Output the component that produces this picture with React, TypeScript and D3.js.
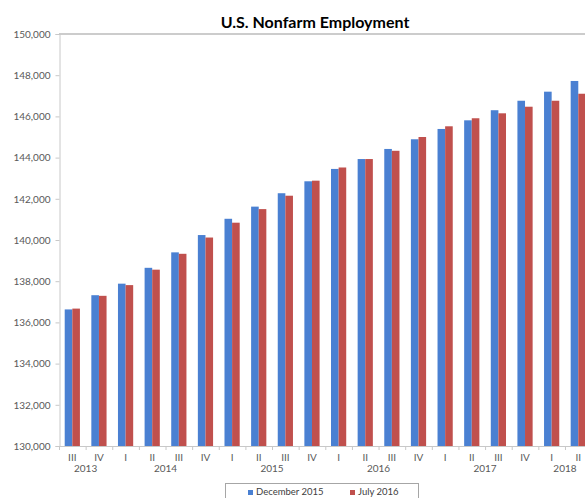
import { useEffect, useRef } from "react";
import * as d3 from "d3";

// quarters from 2013 III to 2018 II
const quarters = ["III", "IV", "I", "II", "III", "IV", "I", "II", "III", "IV", "I", "II", "III", "IV", "I", "II", "III", "IV", "I", "II"];
const years = ["2013", "2013", "2014", "2014", "2014", "2014", "2015", "2015", "2015", "2015", "2016", "2016", "2016", "2016", "2017", "2017", "2017", "2017", "2018", "2018"];
const seriesNames = ["December 2015", "July 2016"];
const dec2015 = [136630, 137320, 137880, 138650, 139400, 140240, 141030, 141620, 142270, 142850, 143450, 143930, 144420, 144890, 145390, 145810, 146300, 146760, 147200, 147720];
const jul2016 = [136670, 137290, 137810, 138560, 139330, 140120, 140840, 141500, 142150, 142880, 143520, 143930, 144330, 145000, 145520, 145910, 146150, 146470, 146760, 147100];
const yTicks = [130000, 132000, 134000, 136000, 138000, 140000, 142000, 144000, 146000, 148000, 150000];
const colors = ["#4a80d2", "#c0504d"];

export default function App() {
    const svgRef = useRef(null);
    const width = 585;
    const height = 498;

    useEffect(() => {
        const svg = d3.select(svgRef.current);
        svg.selectAll("*").remove();

        const font = "Lato, 'Open Sans', sans-serif";
        const keys = quarters.map((q, i) => `${years[i]}-${q}`);

        const x = d3.scaleBand()
            .domain(keys)
            .range([59, 59 + 20 * 26.63])
            .padding(0);

        const xInner = d3.scaleBand()
            .domain(seriesNames)
            .range([0, x.bandwidth()])
            .paddingInner(0)
            .paddingOuter(0.75);

        const y = d3.scaleLinear()
            .domain([130000, 150000])
            .range([446, 34]);

        // top border line
        svg.append("line")
            .attr("x1", 59).attr("x2", width)
            .attr("y1", y(150000)).attr("y2", y(150000))
            .attr("stroke", "#9a9a9a").attr("stroke-width", 1.2);

        // y axis
        const yAxis = svg.append("g")
            .attr("transform", "translate(59.5,0)")
            .call(d3.axisLeft(y).tickValues(yTicks).tickSize(4).tickPadding(5).tickFormat(d3.format(",")));
        yAxis.select(".domain").attr("stroke", "#c8c8c8");
        yAxis.selectAll(".tick line").attr("stroke", "#c8c8c8");
        yAxis.selectAll("text")
            .style("font-family", font)
            .style("font-size", "10px")
            .attr("fill", "#595959");

        // bars
        const data = keys.map((k, i) => ({ key: k, values: [dec2015[i], jul2016[i]] }));
        const groups = svg.append("g")
            .selectAll("g")
            .data(data)
            .join("g")
            .attr("transform", d => `translate(${x(d.key)},0)`);

        groups.selectAll("rect")
            .data(d => d.values.map((v, j) => ({ name: seriesNames[j], v, j })))
            .join("rect")
            .attr("x", d => xInner(d.name))
            .attr("y", d => y(d.v))
            .attr("width", xInner.bandwidth())
            .attr("height", d => y(130000) - y(d.v))
            .attr("fill", d => colors[d.j]);

        // x axis line and ticks
        svg.append("line")
            .attr("x1", 59).attr("x2", width)
            .attr("y1", 446.5).attr("y2", 446.5)
            .attr("stroke", "#c8c8c8");
        svg.append("g")
            .selectAll("line")
            .data(keys)
            .join("line")
            .attr("x1", d => x(d) + 0.5).attr("x2", d => x(d) + 0.5)
            .attr("y1", 446).attr("y2", 450)
            .attr("stroke", "#c8c8c8");

        // quarter labels
        svg.append("g")
            .selectAll("text")
            .data(keys)
            .join("text")
            .attr("x", d => x(d) + x.bandwidth() / 2)
            .attr("y", 461)
            .attr("text-anchor", "middle")
            .style("font-family", font)
            .style("font-size", "10px")
            .attr("fill", "#595959")
            .text((d, i) => quarters[i]);

        // year labels centered under their quarters
        const yearList = Array.from(new Set(years));
        svg.append("g")
            .selectAll("text")
            .data(yearList)
            .join("text")
            .attr("x", yr => {
                const ks = keys.filter((k, i) => years[i] === yr);
                return (x(ks[0]) + x(ks[ks.length - 1]) + x.bandwidth()) / 2;
            })
            .attr("y", 472)
            .attr("text-anchor", "middle")
            .style("font-family", font)
            .style("font-size", "10px")
            .attr("fill", "#595959")
            .text(d => d);

        // title
        svg.append("text")
            .attr("x", 315)
            .attr("y", 28)
            .attr("text-anchor", "middle")
            .style("font-family", font)
            .style("font-size", "16px")
            .style("font-weight", "bold")
            .attr("fill", "#000")
            .text("U.S. Nonfarm Employment");

        // legend
        const legend = svg.append("g");
        legend.append("rect")
            .attr("x", 225.5).attr("y", 483.5)
            .attr("width", 193).attr("height", 22)
            .attr("fill", "#fff")
            .attr("stroke", "#a6a6a6");
        const legendX = [248, 350];
        seriesNames.forEach((name, i) => {
            legend.append("rect")
                .attr("x", legendX[i]).attr("y", 490)
                .attr("width", 5).attr("height", 5)
                .attr("fill", colors[i]);
            legend.append("text")
                .attr("x", legendX[i] + 8).attr("y", 495)
                .style("font-family", font)
                .style("font-size", "9.5px")
                .attr("fill", "#404040")
                .text(name);
        });
    }, []);

    return (
        <svg
            ref={svgRef}
            width={width}
            height={height}
            style={{ position: "absolute", left: 0, top: 0, background: "#fff" }}
        />
    );
}
